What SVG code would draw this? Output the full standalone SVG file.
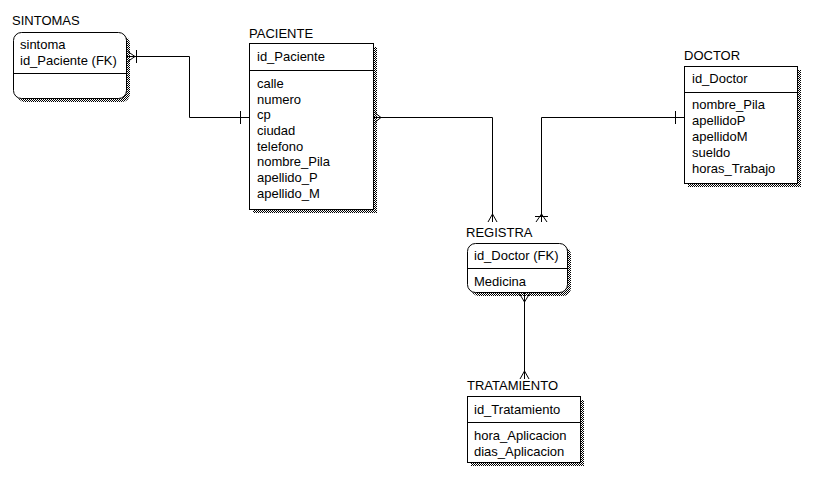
<svg xmlns="http://www.w3.org/2000/svg" width="829" height="484" viewBox="0 0 829 484">
<defs>
<pattern id="dither" width="2" height="2" patternUnits="userSpaceOnUse">
<rect width="2" height="2" fill="#fff"/>
<rect x="0" y="0" width="1" height="1" fill="#000"/>
<rect x="1" y="1" width="1" height="1" fill="#000"/>
</pattern>
</defs>
<style>
text{font-family:"Liberation Sans",Arial,sans-serif;font-size:13px;fill:#000}
.box{fill:#fff;stroke:#000;stroke-width:1}
.sh{fill:url(#dither);stroke:none}
.div{stroke:#000;stroke-width:1}
.ln{fill:none;stroke:#000;stroke-width:1}
</style>
<rect width="829" height="484" fill="#fff"/>

<g id="SINTOMAS">
<text x="12" y="25">SINTOMAS</text>
<rect class="sh" x="17" y="36" width="113" height="66" rx="8"/>
<rect class="box" x="13.5" y="32.5" width="113" height="66" rx="8"/>
<line class="div" x1="13.5" y1="73.5" x2="126.5" y2="73.5"/>
<text x="20" y="49">sintoma</text>
<text x="20" y="65">id_Paciente (FK)</text>
</g>

<g id="PACIENTE">
<text x="249" y="38">PACIENTE</text>
<rect class="sh" x="253" y="47" width="124" height="166"/>
<rect class="box" x="249.5" y="43.5" width="124" height="166"/>
<line class="div" x1="249.5" y1="70.5" x2="373.5" y2="70.5"/>
<text x="257" y="61">id_Paciente</text>
<text x="257" y="88">calle</text>
<text x="257" y="104">numero</text>
<text x="257" y="119">cp</text>
<text x="257" y="135">ciudad</text>
<text x="257" y="151">telefono</text>
<text x="257" y="166">nombre_Pila</text>
<text x="257" y="182">apellido_P</text>
<text x="257" y="198">apellido_M</text>
</g>

<g id="DOCTOR">
<text x="684" y="60">DOCTOR</text>
<rect class="sh" x="688" y="70" width="113" height="117"/>
<rect class="box" x="684.5" y="66.5" width="113" height="117"/>
<line class="div" x1="684.5" y1="92.5" x2="797.5" y2="92.5"/>
<text x="692" y="83">id_Doctor</text>
<text x="692" y="109">nombre_Pila</text>
<text x="692" y="125">apellidoP</text>
<text x="692" y="141">apellidoM</text>
<text x="692" y="157">sueldo</text>
<text x="692" y="173">horas_Trabajo</text>
</g>

<g id="REGISTRA">
<text x="466" y="237">REGISTRA</text>
<rect class="sh" x="471" y="247" width="100" height="49" rx="8"/>
<rect class="box" x="467.5" y="243.5" width="100" height="49" rx="8"/>
<line class="div" x1="467.5" y1="268.5" x2="567.5" y2="268.5"/>
<text x="474" y="260">id_Doctor (FK)</text>
<text x="474" y="286">Medicina</text>
</g>

<g id="TRATAMIENTO">
<text x="467" y="390">TRATAMIENTO</text>
<rect class="sh" x="471" y="400" width="113" height="66"/>
<rect class="box" x="467.5" y="396.5" width="113" height="66"/>
<line class="div" x1="467.5" y1="422.5" x2="580.5" y2="422.5"/>
<text x="474" y="414">id_Tratamiento</text>
<text x="474" y="440">hora_Aplicacion</text>
<text x="474" y="456">dias_Aplicacion</text>
</g>

<g id="connectors">
<polyline class="ln" points="127,56.5 189.5,56.5 189.5,117.5 249,117.5"/>
<polyline class="ln" points="127,51 135,56.5 127,62"/>
<line class="ln" x1="136.5" y1="50" x2="136.5" y2="63"/>
<line class="ln" x1="240.5" y1="111" x2="240.5" y2="124"/>

<polyline class="ln" points="374,117.5 492.5,117.5 492.5,222"/>
<polyline class="ln" points="374,112 381,117.5 374,123"/>
<polyline class="ln" points="488,222 492.5,214 497,222"/>

<polyline class="ln" points="684,117.5 541.5,117.5 541.5,222"/>
<line class="ln" x1="675.5" y1="111" x2="675.5" y2="124"/>
<polyline class="ln" points="536,222 541.5,214 547,222"/>
<line class="ln" x1="535" y1="216.5" x2="548" y2="216.5"/>

<line class="ln" x1="524.5" y1="293" x2="524.5" y2="379"/>
<polyline class="ln" points="519,293 524.5,302 530,293"/>
<polyline class="ln" points="520,379 524.5,371 529,379"/>
</g>
</svg>
